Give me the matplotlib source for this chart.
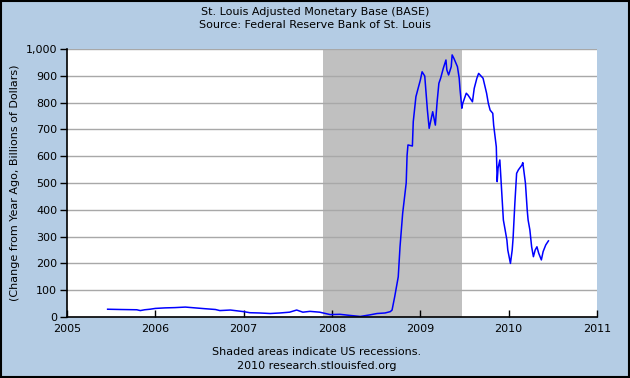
import matplotlib
matplotlib.use("Agg")
import matplotlib.pyplot as plt
from matplotlib.ticker import FuncFormatter, MultipleLocator
from matplotlib.patches import Rectangle

title_lines = ["St. Louis Adjusted Monetary Base (BASE)", "Source: Federal Reserve Bank of St. Louis"]
y_label = "(Change from Year Ago, Billions of Dollars)"
footer_lines = ["Shaded areas indicate US recessions.", "2010 research.stlouisfed.org"]

dates = [2005.46, 2005.60, 2005.79, 2005.83, 2005.88, 2005.94, 2006.00, 2006.11, 2006.22, 2006.34,
         2006.45, 2006.56, 2006.68, 2006.73, 2006.85, 2007.00, 2007.07, 2007.18, 2007.30, 2007.41,
         2007.52, 2007.60, 2007.67, 2007.75, 2007.86, 2007.98, 2008.09, 2008.20, 2008.32, 2008.43,
         2008.51, 2008.60, 2008.66, 2008.68, 2008.71, 2008.75, 2008.77, 2008.80, 2008.84, 2008.85,
         2008.86, 2008.91, 2008.92, 2008.95, 2008.97, 2009.00, 2009.02, 2009.05, 2009.08, 2009.10,
         2009.12, 2009.14, 2009.17, 2009.19, 2009.21, 2009.23, 2009.26, 2009.29, 2009.30, 2009.32,
         2009.35, 2009.36, 2009.38, 2009.42, 2009.44, 2009.45, 2009.47, 2009.48, 2009.52, 2009.54,
         2009.59, 2009.61, 2009.64, 2009.66, 2009.71, 2009.75, 2009.77, 2009.79, 2009.82, 2009.83,
         2009.86, 2009.87, 2009.88, 2009.90, 2009.92, 2009.94, 2009.96, 2009.98, 2009.99, 2010.02,
         2010.04, 2010.05, 2010.07, 2010.09, 2010.11, 2010.15, 2010.16, 2010.19, 2010.21, 2010.22,
         2010.24, 2010.26, 2010.28, 2010.30, 2010.32, 2010.34, 2010.37, 2010.39, 2010.42, 2010.45]
values = [29, 28, 27, 24, 27, 29, 32, 34, 35, 37,
          34, 31, 28, 24, 26, 20, 16, 15, 13, 15,
          18, 26, 18, 21, 18, 9, 10, 6, 2, 8,
          13, 15, 20, 26, 76, 150, 262, 387, 500, 604,
          642, 638, 729, 822, 847, 884, 915, 899, 772, 704,
          735, 766, 716, 803, 872, 891, 928, 959, 922, 903,
          934, 978, 965, 934, 891, 847, 779, 797, 835, 828,
          803, 853, 891, 909, 891, 835, 797, 772, 760, 716,
          635, 505, 555, 586, 474, 362, 325, 287, 250, 200,
          250, 294, 424, 536, 549, 567, 576, 499, 399, 362,
          325, 262, 225, 250, 262, 238, 213, 244, 269, 284]

recession_start = 2007.90
recession_end = 2009.47
x_ticks = [2005, 2006, 2007, 2008, 2009, 2010, 2011]

bg = "#b4cce4"
fig = plt.figure(figsize=(6.3, 3.78), dpi=100, facecolor=bg)
ax = fig.add_axes([67/630, 61/378, 530/630, 268/378])
ax.set_facecolor("white")

ax.axvspan(recession_start, recession_end, color="#c0c0c0", zorder=1, lw=0)
ax.plot(dates, values, color="#0000ff", lw=1.1, zorder=3)

ax.set_xlim(2005, 2011)
ax.set_ylim(0, 1000)
ax.yaxis.set_major_locator(MultipleLocator(100))
ax.yaxis.set_major_formatter(FuncFormatter(lambda v, p: f"{int(v):,}"))
ax.set_xticks(x_ticks)
ax.set_xticklabels([str(t) for t in x_ticks])
ax.grid(axis="y", color="#a8a8a8", lw=1.0, zorder=2)
ax.set_axisbelow(False)
for s in ["top", "right"]:
    ax.spines[s].set_visible(False)
for s in ["left", "bottom"]:
    ax.spines[s].set_color("black")
    ax.spines[s].set_linewidth(1.2)
    ax.spines[s].set_zorder(4)
ax.tick_params(axis="y", direction="out", length=5, width=1, labelsize=8, pad=2)
ax.tick_params(axis="x", direction="in", length=5, width=1, labelsize=8, pad=5)
ax.set_ylabel(y_label, fontsize=8, labelpad=4)

fig.text(0.5, 1 - 12/378, title_lines[0], ha="center", va="center", fontsize=8)
fig.text(0.5, 1 - 25/378, title_lines[1], ha="center", va="center", fontsize=8)
fig.text(317/630, 1 - 352/378, footer_lines[0], ha="center", va="center", fontsize=8)
fig.text(317/630, 1 - 366/378, footer_lines[1], ha="center", va="center", fontsize=8)

fig.patches.append(Rectangle((0.001, 0.0015), 0.998, 0.997, transform=fig.transFigure,
                             fill=False, edgecolor="black", lw=1.5))

fig.savefig("out.png", dpi=100, facecolor=bg)
